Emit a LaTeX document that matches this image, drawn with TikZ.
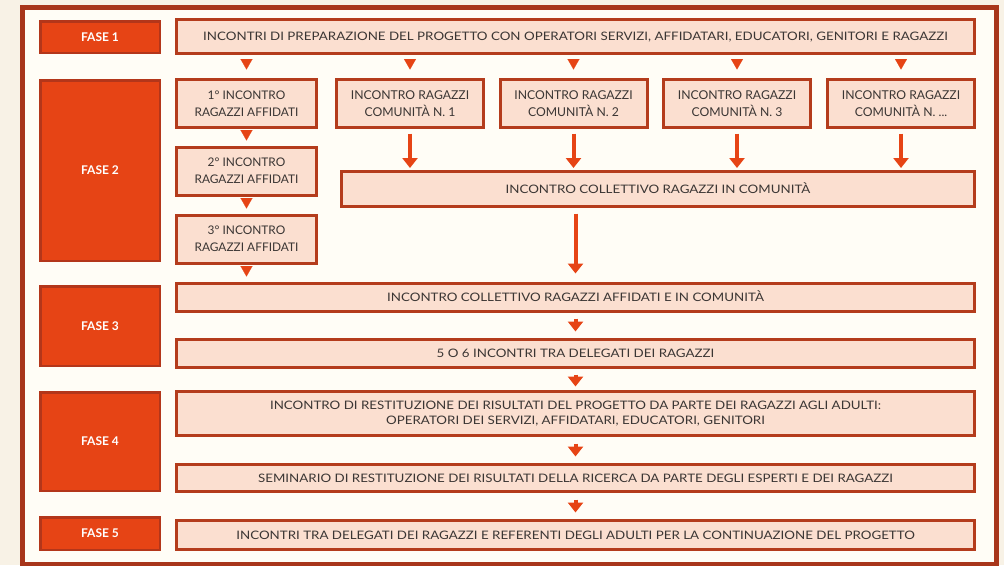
\documentclass[tikz,border=0pt]{standalone}
\usepackage{fontspec}
\setmainfont{Lato}[FakeStretch=1.14]
\newfontfamily\condfont{Lato}
\usetikzlibrary{arrows.meta}
\definecolor{bgout}{HTML}{F8F2E6}
\definecolor{bgin}{HTML}{FFFDF6}
\definecolor{framec}{HTML}{A8361B}
\definecolor{fasec}{HTML}{E64415}
\definecolor{faseline}{HTML}{B3361A}
\definecolor{boxfill}{HTML}{FBDFD0}
\definecolor{boxline}{HTML}{B43C1C}
\definecolor{txt}{HTML}{3B3634}
\tikzset{
  fasebox/.style={draw=faseline, fill=fasec, line width=2.5pt, inner sep=0pt,
    text=white, font=\condfont\fontsize{12}{14}\selectfont\bfseries, minimum width=119.5pt,
    text height=8.6pt, text depth=0pt},
  stepbox/.style={draw=boxline, fill=boxfill, line width=3pt, inner sep=0pt,
    text=txt, align=center, font=\fontsize{11.7}{15.7}\selectfont},
  oneline/.style={text height=8.4pt, text depth=0pt},
  wide/.style={stepbox, minimum width=798pt},
  small/.style={stepbox, minimum width=140pt, minimum height=48pt,
    font=\condfont\fontsize{11.9}{16.7}\selectfont},
  comm/.style={stepbox, minimum width=147pt, minimum height=48pt,
    font=\condfont\fontsize{12.2}{16.7}\selectfont},
  tri/.style={draw=fasec, fill=fasec, -{Triangle[width=12pt,length=10.5pt]}, line width=0.1pt},
  arr/.style={draw=fasec, line width=4pt, -{Triangle[width=15pt,length=10pt]}}
}
\begin{document}
\begin{tikzpicture}[x=1pt,y=-1pt]
\useasboundingbox (0,0) rectangle (1004,565);
\fill[bgout] (0,0) rectangle (1004,565);
\draw[framec, fill=bgin, line width=5pt] (22.5,7.5) rectangle (996.5,564.5);

% FASE labels
\node[fasebox, minimum height=31.5pt] (f1) at (100,37) {FASE 1};
\node[fasebox, minimum height=180.5pt] (f2) at (100,170.5) {FASE 2};
\node[fasebox, minimum height=79.5pt] (f3) at (100,326) {FASE 3};
\node[fasebox, minimum height=98.5pt] (f4) at (100,441.5) {FASE 4};
\node[fasebox, minimum height=32.5pt] (f5) at (100,533.5) {FASE 5};

% Fase 1
\node[wide, oneline, minimum height=34pt] (p1) at (575.5,36.5) {INCONTRI DI PREPARAZIONE DEL PROGETTO CON OPERATORI SERVIZI, AFFIDATARI, EDUCATORI, GENITORI E RAGAZZI};

% Fase 2
\node[small] (a1) at (246.5,103.5) {1° INCONTRO\\RAGAZZI AFFIDATI};
\node[small] (a2) at (246.5,171) {2° INCONTRO\\RAGAZZI AFFIDATI};
\node[small] (a3) at (246.5,239) {3° INCONTRO\\RAGAZZI AFFIDATI};
\node[comm] (c1) at (410,103.5) {INCONTRO RAGAZZI\\COMUNITÀ N. 1};
\node[comm] (c2) at (573.5,103.5) {INCONTRO RAGAZZI\\COMUNITÀ N. 2};
\node[comm] (c3) at (737,103.5) {INCONTRO RAGAZZI\\COMUNITÀ N. 3};
\node[comm] (c4) at (901,103.5) {INCONTRO RAGAZZI\\COMUNITÀ N. ...};
\node[stepbox, oneline, minimum width=633pt, minimum height=35pt] (coll) at (658,189) {INCONTRO COLLETTIVO RAGAZZI IN COMUNITÀ};

% Fase 3
\node[wide, oneline, minimum height=28pt] (b31) at (575.5,297.5) {INCONTRO COLLETTIVO RAGAZZI AFFIDATI E IN COMUNITÀ};
\node[wide, oneline, minimum height=28pt] (b32) at (575.5,353.5) {5 O 6 INCONTRI TRA DELEGATI DEI RAGAZZI};

% Fase 4
\node[wide, minimum height=44pt] (b41) at (575.5,413.5) {INCONTRO DI RESTITUZIONE DEI RISULTATI DEL PROGETTO DA PARTE DEI RAGAZZI AGLI ADULTI:\\OPERATORI DEI SERVIZI, AFFIDATARI, EDUCATORI, GENITORI\rule[-1.2pt]{0pt}{0pt}};
\node[wide, oneline, minimum height=27pt] (b42) at (575.5,478) {SEMINARIO DI RESTITUZIONE DEI RISULTATI DELLA RICERCA DA PARTE DEGLI ESPERTI E DEI RAGAZZI};

% Fase 5
\node[wide, oneline, minimum height=29pt] (b5) at (575.5,535) {INCONTRI TRA DELEGATI DEI RAGAZZI E REFERENTI DEGLI ADULTI PER LA CONTINUAZIONE DEL PROGETTO};

% triangles
\foreach \n in {a1,c1,c2,c3,c4}
  \draw[tri, shorten <=6.5pt, shorten >=8.5pt] (p1.south -| \n.north) -- (\n.north);
\draw[tri, shorten <=4.5pt, shorten >=5pt] (a1.south) -- (a2.north);
\draw[tri, shorten <=5pt, shorten >=5pt] (a2.south) -- (a3.north);
\draw[tri, shorten <=5pt, shorten >=5.5pt] (a3.south) -- (a3.south |- b31.north);

% arrows
\foreach \n in {c1,c2,c3,c4}
  \draw[arr, shorten <=4.5pt, shorten >=2pt] (\n.south) -- (\n.south |- coll.north);
\draw[arr, shorten <=5.5pt, shorten >=8.5pt] (coll.south -| b31.north) -- (b31.north);
\draw[arr, shorten <=5.5pt, shorten >=6.5pt] (b31.south) -- (b32.north);
\draw[arr, shorten <=5.5pt, shorten >=3.5pt] (b32.south) -- (b41.north);
\draw[arr, shorten <=6.5pt, shorten >=6.5pt] (b41.south) -- (b42.north);
\draw[arr, shorten <=6.5pt, shorten >=6.5pt] (b42.south) -- (b5.north);
\end{tikzpicture}
\end{document}
